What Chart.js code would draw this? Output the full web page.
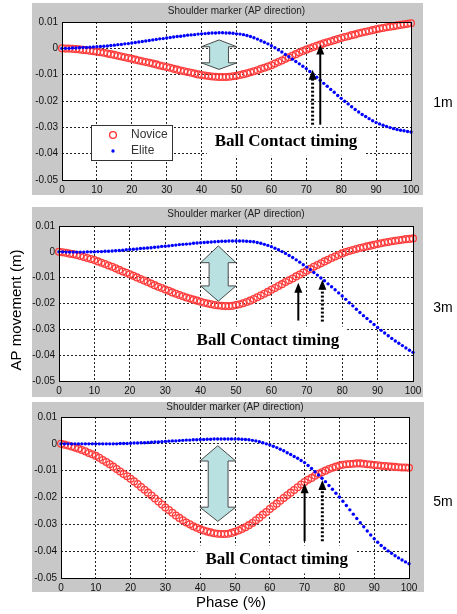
<!DOCTYPE html>
<html>
<head>
<meta charset="utf-8">
<script src="https://cdn.jsdelivr.net/npm/chart.js@4.4.1/dist/chart.umd.min.js"></script>
<style>
  body { margin: 0; background: #fff; }
  canvas { position: absolute; left: 0; }
</style>
</head>
<body>
<canvas id="c1" width="457" height="200" style="top:0"></canvas>
<canvas id="c2" width="457" height="200" style="top:200px"></canvas>
<canvas id="c3" width="457" height="214" style="top:400px"></canvas>
<script>
// phase 0..100 %, one sample per percent
var phase = Array.from({ length: 101 }, function (_, i) { return i; });
var xTicks = [0, 10, 20, 30, 40, 50, 60, 70, 80, 90, 100];
var yTicks = [0.01, 0, -0.01, -0.02, -0.03, -0.04, -0.05];

// 1m
var novice1m = [
  0, -0.0001, -0.0001, -0.0002, -0.0003, -0.0004, -0.0006, -0.0007, -0.0009, -0.0011,
  -0.0013, -0.0015, -0.0017, -0.0020, -0.0022, -0.0025, -0.0028, -0.0031, -0.0034, -0.0037,
  -0.0040, -0.0043, -0.0046, -0.0049, -0.0052, -0.0055, -0.0058, -0.0061, -0.0065, -0.0068,
  -0.0071, -0.0074, -0.0078, -0.0081, -0.0084, -0.0087, -0.0090, -0.0093, -0.0096, -0.0099,
  -0.0101, -0.0103, -0.0105, -0.0107, -0.0108, -0.0109, -0.0109, -0.0109, -0.0108, -0.0106,
  -0.0104, -0.0101, -0.0098, -0.0095, -0.0091, -0.0087, -0.0083, -0.0078, -0.0074, -0.0069,
  -0.0064, -0.0058, -0.0052, -0.0046, -0.0040, -0.0034, -0.0028, -0.0022, -0.0016, -0.0010,
  -0.0005, 0.0000, 0.0005, 0.0010, 0.0014, 0.0019, 0.0023, 0.0027, 0.0031, 0.0035,
  0.0039, 0.0043, 0.0046, 0.0050, 0.0053, 0.0057, 0.0060, 0.0063, 0.0066, 0.0069,
  0.0072, 0.0075, 0.0077, 0.0080, 0.0082, 0.0084, 0.0087, 0.0089, 0.0091, 0.0093,
  0.0095
];
var elite1m = [
  0, 0.0000, 0.0000, 0.0001, 0.0001, 0.0002, 0.0003, 0.0003, 0.0004, 0.0005,
  0.0006, 0.0007, 0.0008, 0.0009, 0.0011, 0.0012, 0.0014, 0.0015, 0.0017, 0.0018,
  0.0020, 0.0022, 0.0024, 0.0026, 0.0028, 0.0030, 0.0032, 0.0034, 0.0036, 0.0037,
  0.0039, 0.0041, 0.0043, 0.0045, 0.0046, 0.0048, 0.0050, 0.0051, 0.0052, 0.0054,
  0.0055, 0.0056, 0.0057, 0.0058, 0.0058, 0.0059, 0.0059, 0.0058, 0.0058, 0.0057,
  0.0055, 0.0054, 0.0052, 0.0049, 0.0045, 0.0040, 0.0035, 0.0029, 0.0023, 0.0017,
  0.0010, 0.0002, -0.0006, -0.0014, -0.0023, -0.0032, -0.0041, -0.0050, -0.0059, -0.0068,
  -0.0077, -0.0088, -0.0099, -0.0110, -0.0121, -0.0133, -0.0144, -0.0156, -0.0167, -0.0179,
  -0.0190, -0.0201, -0.0211, -0.0222, -0.0232, -0.0242, -0.0251, -0.0259, -0.0267, -0.0275,
  -0.0282, -0.0287, -0.0292, -0.0297, -0.0301, -0.0305, -0.0308, -0.0311, -0.0313, -0.0316,
  -0.0318
];

// 3m
var novice3m = [
  0, -0.0002, -0.0004, -0.0007, -0.0009, -0.0012, -0.0016, -0.0020, -0.0024, -0.0028,
  -0.0032, -0.0037, -0.0042, -0.0047, -0.0053, -0.0058, -0.0064, -0.0070, -0.0076, -0.0081,
  -0.0087, -0.0093, -0.0099, -0.0105, -0.0111, -0.0117, -0.0123, -0.0129, -0.0135, -0.0140,
  -0.0146, -0.0151, -0.0157, -0.0162, -0.0167, -0.0172, -0.0177, -0.0181, -0.0185, -0.0189,
  -0.0193, -0.0197, -0.0200, -0.0203, -0.0206, -0.0208, -0.0209, -0.0210, -0.0210, -0.0209,
  -0.0206, -0.0203, -0.0199, -0.0194, -0.0189, -0.0183, -0.0176, -0.0169, -0.0162, -0.0155,
  -0.0147, -0.0140, -0.0132, -0.0125, -0.0117, -0.0110, -0.0103, -0.0095, -0.0088, -0.0080,
  -0.0073, -0.0066, -0.0058, -0.0051, -0.0044, -0.0037, -0.0031, -0.0024, -0.0018, -0.0012,
  -0.0006, -0.0001, 0.0003, 0.0007, 0.0011, 0.0015, 0.0018, 0.0021, 0.0024, 0.0027,
  0.0030, 0.0033, 0.0036, 0.0038, 0.0041, 0.0043, 0.0045, 0.0047, 0.0049, 0.0050,
  0.0052
];
var elite3m = [
  0, 0.0000, -0.0001, -0.0001, -0.0001, -0.0001, -0.0001, -0.0001, 0.0000, 0.0000,
  0.0000, 0.0001, 0.0001, 0.0002, 0.0002, 0.0003, 0.0004, 0.0005, 0.0006, 0.0008,
  0.0009, 0.0010, 0.0011, 0.0013, 0.0014, 0.0015, 0.0016, 0.0018, 0.0019, 0.0021,
  0.0022, 0.0023, 0.0025, 0.0026, 0.0028, 0.0029, 0.0030, 0.0031, 0.0033, 0.0034,
  0.0035, 0.0036, 0.0037, 0.0038, 0.0039, 0.0040, 0.0041, 0.0041, 0.0042, 0.0042,
  0.0042, 0.0042, 0.0042, 0.0041, 0.0040, 0.0039, 0.0036, 0.0033, 0.0029, 0.0025,
  0.0020, 0.0014, 0.0008, 0.0001, -0.0006, -0.0014, -0.0022, -0.0031, -0.0040, -0.0050,
  -0.0059, -0.0069, -0.0080, -0.0090, -0.0101, -0.0112, -0.0124, -0.0135, -0.0147, -0.0159,
  -0.0171, -0.0184, -0.0197, -0.0209, -0.0222, -0.0235, -0.0247, -0.0258, -0.0270, -0.0281,
  -0.0293, -0.0304, -0.0314, -0.0325, -0.0335, -0.0345, -0.0354, -0.0363, -0.0372, -0.0381,
  -0.0389
];

// 5m
var novice5m = [
  0, -0.0003, -0.0006, -0.0010, -0.0014, -0.0018, -0.0023, -0.0028, -0.0034, -0.0039,
  -0.0045, -0.0052, -0.0060, -0.0068, -0.0076, -0.0085, -0.0094, -0.0103, -0.0112, -0.0121,
  -0.0130, -0.0140, -0.0150, -0.0161, -0.0171, -0.0182, -0.0193, -0.0204, -0.0215, -0.0226,
  -0.0237, -0.0247, -0.0257, -0.0267, -0.0276, -0.0285, -0.0293, -0.0300, -0.0307, -0.0313,
  -0.0318, -0.0323, -0.0327, -0.0330, -0.0333, -0.0335, -0.0336, -0.0336, -0.0335, -0.0332,
  -0.0328, -0.0323, -0.0317, -0.0311, -0.0303, -0.0295, -0.0285, -0.0275, -0.0264, -0.0254,
  -0.0243, -0.0233, -0.0223, -0.0212, -0.0202, -0.0192, -0.0182, -0.0172, -0.0162, -0.0152,
  -0.0142, -0.0134, -0.0127, -0.0119, -0.0112, -0.0106, -0.0100, -0.0094, -0.0089, -0.0085,
  -0.0081, -0.0078, -0.0076, -0.0075, -0.0074, -0.0073, -0.0073, -0.0074, -0.0076, -0.0077,
  -0.0079, -0.0080, -0.0082, -0.0083, -0.0084, -0.0085, -0.0086, -0.0087, -0.0088, -0.0088,
  -0.0089
];
var elite5m = [
  0, 0, 0, 0, 0, 0, 0, 0, 0, 0,
  0, 0, 0, 0, 0, 0, 0.0000, 0.0001, 0.0001, 0.0001,
  0.0002, 0.0003, 0.0003, 0.0004, 0.0004, 0.0005, 0.0006, 0.0007, 0.0007, 0.0008,
  0.0009, 0.0010, 0.0011, 0.0011, 0.0012, 0.0013, 0.0014, 0.0014, 0.0015, 0.0015,
  0.0016, 0.0016, 0.0017, 0.0017, 0.0018, 0.0018, 0.0018, 0.0018, 0.0018, 0.0018,
  0.0018, 0.0018, 0.0017, 0.0016, 0.0015, 0.0013, 0.0011, 0.0008, 0.0004, 0.0000,
  -0.0004, -0.0009, -0.0014, -0.0020, -0.0026, -0.0033, -0.0040, -0.0047, -0.0054, -0.0062,
  -0.0070, -0.0081, -0.0092, -0.0104, -0.0116, -0.0128, -0.0141, -0.0155, -0.0169, -0.0184,
  -0.0198, -0.0214, -0.0230, -0.0246, -0.0262, -0.0278, -0.0294, -0.0309, -0.0325, -0.0340,
  -0.0354, -0.0367, -0.0379, -0.0389, -0.0399, -0.0408, -0.0417, -0.0425, -0.0433, -0.0440,
  -0.0447
];

var titleText = 'Shoulder marker (AP direction)';
var contactText = 'Ball Contact timing';

function toXY(arr) {
    return arr.map(function (v, i) { return { x: phase[i], y: v }; });
}

function fmtY(v) {
    if (Math.abs(v) < 1e-9) return '0';
    return v.toFixed(2);
}

function drawBlackArrow(ctx, x, yTip, yEnd, dotted) {
    ctx.save();
    ctx.strokeStyle = '#000';
    ctx.fillStyle = '#000';
    ctx.lineWidth = dotted ? 3 : 2;
    if (dotted) ctx.setLineDash([2, 2]);
    ctx.beginPath();
    ctx.moveTo(x, yEnd);
    ctx.lineTo(x, yTip + 7);
    ctx.stroke();
    ctx.setLineDash([]);
    ctx.beginPath();
    ctx.moveTo(x, yTip);
    ctx.lineTo(x - 4, yTip + 10);
    ctx.lineTo(x + 4, yTip + 10);
    ctx.closePath();
    ctx.fill();
    ctx.restore();
}

function drawDoubleArrow(ctx, xs, ys, d) {
    var x0 = xs.getPixelForValue(d.head[0]), x1 = xs.getPixelForValue(d.head[1]);
    var s0 = xs.getPixelForValue(d.shaft[0]), s1 = xs.getPixelForValue(d.shaft[1]);
    var cx = (x0 + x1) / 2;
    var yt = ys.getPixelForValue(d.y[0]), ya = ys.getPixelForValue(d.y[1]);
    var yb = ys.getPixelForValue(d.y[2]), yd = ys.getPixelForValue(d.y[3]);
    ctx.save();
    ctx.beginPath();
    ctx.moveTo(cx, yt);
    ctx.lineTo(x1, ya);
    ctx.lineTo(s1, ya);
    ctx.lineTo(s1, yb);
    ctx.lineTo(x1, yb);
    ctx.lineTo(cx, yd);
    ctx.lineTo(x0, yb);
    ctx.lineTo(s0, yb);
    ctx.lineTo(s0, ya);
    ctx.lineTo(x0, ya);
    ctx.closePath();
    ctx.fillStyle = '#b9e1e1';
    ctx.fill();
    ctx.strokeStyle = '#4a4a4a';
    ctx.lineWidth = 1;
    ctx.stroke();
    ctx.restore();
}

var panelDeco = {
    id: 'panelDeco',
    beforeDraw: function (chart, args, o) {
        var ctx = chart.ctx, a = chart.chartArea;
        ctx.save();
        ctx.fillStyle = '#fff';
        ctx.fillRect(0, 0, chart.width, chart.height);
        ctx.fillStyle = '#c8c8c8';
        ctx.fillRect(o.box[0], o.box[1], o.box[2] - o.box[0], o.box[3] - o.box[1]);
        ctx.fillStyle = '#fff';
        ctx.fillRect(a.left, a.top, a.width, a.height);
        ctx.restore();
    },
    beforeDatasetsDraw: function (chart, args, o) {
        var ctx = chart.ctx, xs = chart.scales.x, ys = chart.scales.y;
        ctx.save();
        ctx.font = 'bold 17px "Liberation Serif"';
        var w = ctx.measureText(contactText).width;
        var tx = xs.getPixelForValue(o.text[0]), ty = ys.getPixelForValue(o.text[1]);
        ctx.fillStyle = '#fff';
        ctx.fillRect(tx - w / 2 - 8, ty - 14, w + 16, 28);
        ctx.restore();
    },
    afterDatasetsDraw: function (chart, args, o) {
        var ctx = chart.ctx, a = chart.chartArea, xs = chart.scales.x, ys = chart.scales.y;
        drawDoubleArrow(ctx, xs, ys, o.gap);

        drawBlackArrow(ctx, xs.getPixelForValue(o.solid[0]), ys.getPixelForValue(o.solid[1]),
            ys.getPixelForValue(o.solid[2]), false);
        drawBlackArrow(ctx, xs.getPixelForValue(o.dotted[0]), ys.getPixelForValue(o.dotted[1]),
            ys.getPixelForValue(o.dotted[2]), true);

        ctx.save();
        ctx.fillStyle = '#000';
        ctx.font = 'bold 17px "Liberation Serif"';
        ctx.textAlign = 'center';
        ctx.textBaseline = 'middle';
        ctx.fillText(contactText, xs.getPixelForValue(o.text[0]), ys.getPixelForValue(o.text[1]));

        // axes box
        ctx.strokeStyle = '#000';
        ctx.lineWidth = 1;
        ctx.strokeRect(Math.round(a.left) + 0.5, Math.round(a.top) + 0.5,
            Math.round(a.width), Math.round(a.height));

        // title
        ctx.font = '10px "Liberation Sans"';
        ctx.fillStyle = '#222';
        ctx.textBaseline = 'middle';
        ctx.fillText(titleText, (a.left + a.right) / 2, o.titleY);

        // distance label
        ctx.font = '14px "Liberation Sans"';
        ctx.fillStyle = '#000';
        ctx.fillText(o.side, 443, o.sideY);

        if (o.ylabel) {
            ctx.save();
            ctx.translate(17, o.ylabel[1]);
            ctx.rotate(-Math.PI / 2);
            ctx.font = '15px "Liberation Sans"';
            ctx.fillText(o.ylabel[0], 0, 0);
            ctx.restore();
        }
        if (o.xlabel) {
            ctx.font = '15px "Liberation Sans"';
            ctx.fillText(o.xlabel[0], 231, o.xlabel[1]);
        }

        if (o.legend) {
            var lx = a.left + 29, ly = a.top + 103, lw = 81, lh = 35;
            ctx.fillStyle = '#fff';
            ctx.fillRect(lx, ly, lw, lh);
            ctx.strokeStyle = '#333';
            ctx.strokeRect(lx + 0.5, ly + 0.5, lw, lh);
            ctx.beginPath();
            ctx.arc(lx + 22, ly + 10, 3.4, 0, Math.PI * 2);
            ctx.strokeStyle = '#ff3030';
            ctx.lineWidth = 1.3;
            ctx.stroke();
            ctx.beginPath();
            ctx.arc(lx + 22, ly + 26, 1.7, 0, Math.PI * 2);
            ctx.fillStyle = '#0000ff';
            ctx.fill();
            ctx.font = '12px "Liberation Sans"';
            ctx.fillStyle = '#333';
            ctx.textAlign = 'left';
            ctx.fillText('Novice', lx + 40, ly + 10);
            ctx.fillText('Elite', lx + 40, ly + 26);
        }
        ctx.restore();
    }
};

function makePanel(id, novice, elite, pad, axisW, axisH, deco) {
    var ctx = document.getElementById(id);
    return new Chart(ctx, {
        type: 'line',
        data: {
            datasets: [{
                label: 'Elite',
                data: toXY(elite),
                showLine: false,
                pointRadius: 1.7,
                pointBorderWidth: 0,
                pointBackgroundColor: '#0000ff',
                clip: false
            }, {
                label: 'Novice',
                data: toXY(novice),
                showLine: false,
                pointRadius: 3.4,
                pointBorderWidth: 1.3,
                pointBorderColor: '#ff3c3c',
                pointBackgroundColor: 'rgba(0,0,0,0)',
                clip: false
            }]
        },
        options: {
            responsive: false,
            animation: false,
            devicePixelRatio: 1,
            layout: { padding: pad },
            plugins: {
                legend: { display: false },
                tooltip: { enabled: false },
                panelDeco: deco
            },
            scales: {
                x: {
                    type: 'linear',
                    min: 0,
                    max: 100,
                    afterBuildTicks: function (s) { s.ticks = xTicks.map(function (v) { return { value: v }; }); },
                    afterFit: function (s) { s.height = axisH; },
                    grid: { color: '#222', drawTicks: false },
                    border: { display: false, dash: [2, 2] },
                    ticks: { padding: 4, color: '#111', font: { family: 'Liberation Sans', size: 10 }, maxRotation: 0 }
                },
                y: {
                    min: -0.05,
                    max: 0.01,
                    afterBuildTicks: function (s) { s.ticks = yTicks.map(function (v) { return { value: v }; }); },
                    afterFit: function (s) { s.width = axisW; },
                    grid: { color: '#222', drawTicks: false },
                    border: { display: false, dash: [2, 2] },
                    ticks: { padding: 4, color: '#111', font: { family: 'Liberation Sans', size: 10 }, callback: fmtY }
                }
            }
        },
        plugins: [panelDeco]
    });
}

makePanel('c1', novice1m, elite1m, { left: 0, top: 22, right: 46, bottom: 6 }, 62, 14, {
    box: [32, 3, 423, 195],
    titleY: 11,
    side: '1m', sideY: 103,
    gap: { head: [39.9, 50.1], shaft: [42.3, 47.7], y: [0.0032, 0.0006, -0.0055, -0.008] },
    solid: [74, 0.0015, -0.029],
    dotted: [71.8, -0.0081, -0.029],
    text: [64.2, -0.0355],
    legend: true
});

makePanel('c2', novice3m, elite3m, { left: 0, top: 26, right: 44, bottom: 5 }, 59, 14, {
    box: [32, 7, 423, 197],
    titleY: 14,
    side: '3m', sideY: 108,
    gap: { head: [40, 50], shaft: [42.4, 47.8], y: [0.0023, -0.0042, -0.0132, -0.0191] },
    solid: [67.6, -0.012, -0.0266],
    dotted: [74.4, -0.0108, -0.027],
    text: [59, -0.0344],
    ylabel: ['AP movement (m)', 110]
});

makePanel('c3', novice5m, elite5m, { left: 0, top: 17, right: 48, bottom: 22 }, 61, 14, {
    box: [32, 2, 424, 192],
    titleY: 7,
    side: '5m', sideY: 102,
    gap: { head: [39.9, 50.2], shaft: [42.3, 48], y: [-0.0007, -0.0064, -0.0236, -0.0289] },
    solid: [70, -0.0147, -0.0363],
    dotted: [75.1, -0.0135, -0.0363],
    text: [62, -0.0431],
    xlabel: ['Phase (%)', 203]
});
</script>
</body>
</html>
